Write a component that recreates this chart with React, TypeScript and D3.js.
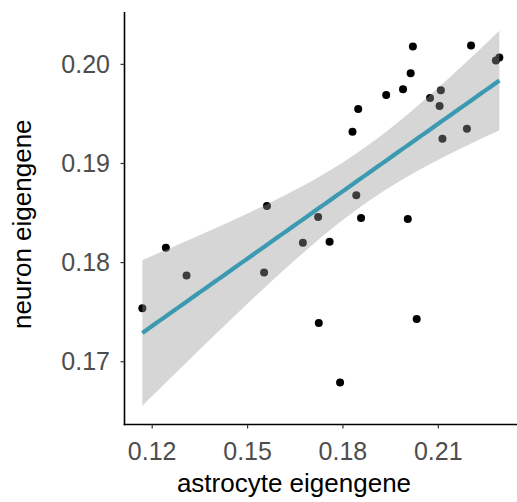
import React from "react";
import * as d3 from "d3";

const astrocyte = [
  0.1169, 0.1243, 0.1308, 0.1552, 0.1561, 0.1674, 0.1722, 0.1724, 0.1758, 0.1791,
  0.1830, 0.1842, 0.1848, 0.1857, 0.1936, 0.1989, 0.2004, 0.2013, 0.2020, 0.2032,
  0.2074, 0.2104, 0.2108, 0.2113, 0.2190, 0.2203, 0.2281, 0.2292,
];
const neuron = [
  0.1754, 0.1815, 0.1787, 0.1790, 0.1857, 0.1820, 0.1846, 0.1739, 0.1821, 0.1679,
  0.1932, 0.1868, 0.1955, 0.1845, 0.1969, 0.1975, 0.1844, 0.1991, 0.2018, 0.1743,
  0.1966, 0.1958, 0.1974, 0.1925, 0.1935, 0.2019, 0.2004, 0.2007,
];
const xTicks = [0.12, 0.15, 0.18, 0.21];
const yTicks = [0.17, 0.18, 0.19, 0.2];
const xTitle = "astrocyte eigengene";
const yTitle = "neuron eigengene";

const W = 517;
const H = 502;
const left = 124.5;
const right = 517.2;
const top = 12;
const bottom = 424.5;
const T_CRIT = 2.0555; // qt(0.975, df = 26)

export default function App() {
  const n = astrocyte.length;
  const xbar = d3.mean(astrocyte) as number;
  const ybar = d3.mean(neuron) as number;
  let sxx = 0, sxy = 0;
  for (let i = 0; i < n; i++) {
    sxx += (astrocyte[i] - xbar) ** 2;
    sxy += (astrocyte[i] - xbar) * (neuron[i] - ybar);
  }
  const b = sxy / sxx;
  const a = ybar - b * xbar;
  let sse = 0;
  for (let i = 0; i < n; i++) sse += (neuron[i] - (a + b * astrocyte[i])) ** 2;
  const s = Math.sqrt(sse / (n - 2));
  const [xmin, xmax] = d3.extent(astrocyte) as [number, number];
  const fit = d3.range(80).map((k) => {
    const x = xmin + ((xmax - xmin) * k) / 79;
    const y = a + b * x;
    const se = s * Math.sqrt(1 / n + (x - xbar) ** 2 / sxx);
    return { x, y, lo: y - T_CRIT * se, hi: y + T_CRIT * se };
  });
  const ylo = Math.min(d3.min(neuron) as number, d3.min(fit, (d) => d.lo) as number);
  const yhi = Math.max(d3.max(neuron) as number, d3.max(fit, (d) => d.hi) as number);
  const xr = xmax - xmin;
  const yr = yhi - ylo;
  const xs = d3.scaleLinear().domain([xmin - 0.05 * xr, xmax + 0.05 * xr]).range([left, right]);
  const ys = d3.scaleLinear().domain([ylo - 0.05 * yr, yhi + 0.05 * yr]).range([bottom, top]);

  const area = d3
    .area<{ x: number; y: number; lo: number; hi: number }>()
    .x((d) => xs(d.x))
    .y0((d) => ys(d.lo))
    .y1((d) => ys(d.hi));
  const line = d3
    .line<{ x: number; y: number }>()
    .x((d) => xs(d.x))
    .y((d) => ys(d.y));

  const font = "Liberation Sans, Arial, sans-serif";

  return (
    <svg
      width={W}
      height={H}
      style={{ position: "absolute", left: 0, top: 0, background: "#fff" }}
      fontFamily={font}
    >
      <rect x={0} y={0} width={W} height={H} fill="#fff" />
      {astrocyte.map((x, i) => (
        <circle key={i} cx={xs(x)} cy={ys(neuron[i])} r={4} fill="#000" />
      ))}
      <path d={area(fit) || ""} fill="#999999" fillOpacity={0.4} />
      <path d={line(fit) || ""} fill="none" stroke="#3B9AB2" strokeWidth={4.2} />
      {/* axes */}
      <line x1={left} x2={left} y1={top} y2={bottom + 0.8} stroke="#000" strokeWidth={1.6} />
      <line x1={left - 0.8} x2={W} y1={bottom} y2={bottom} stroke="#000" strokeWidth={1.6} />
      {yTicks.map((t) => (
        <g key={t}>
          <line x1={left - 4} x2={left} y1={ys(t)} y2={ys(t)} stroke="#333" strokeWidth={1.2} />
          <text x={110} y={ys(t)} dy="0.35em" textAnchor="end" fontSize={25} fill="#4d4d4d">
            {t.toFixed(2)}
          </text>
        </g>
      ))}
      {xTicks.map((t) => (
        <g key={t}>
          <line x1={xs(t)} x2={xs(t)} y1={bottom} y2={bottom + 4} stroke="#333" strokeWidth={1.2} />
          <text x={xs(t)} y={459.5} textAnchor="middle" fontSize={25} fill="#4d4d4d">
            {t.toFixed(2)}
          </text>
        </g>
      ))}
      <text x={294} y={492} textAnchor="middle" fontSize={26} fill="#000">
        {xTitle}
      </text>
      <text
        transform={`translate(31,${(top + bottom) / 2 + 6}) rotate(-90)`}
        textAnchor="middle"
        fontSize={26}
        fill="#000"
      >
        {yTitle}
      </text>
    </svg>
  );
}
